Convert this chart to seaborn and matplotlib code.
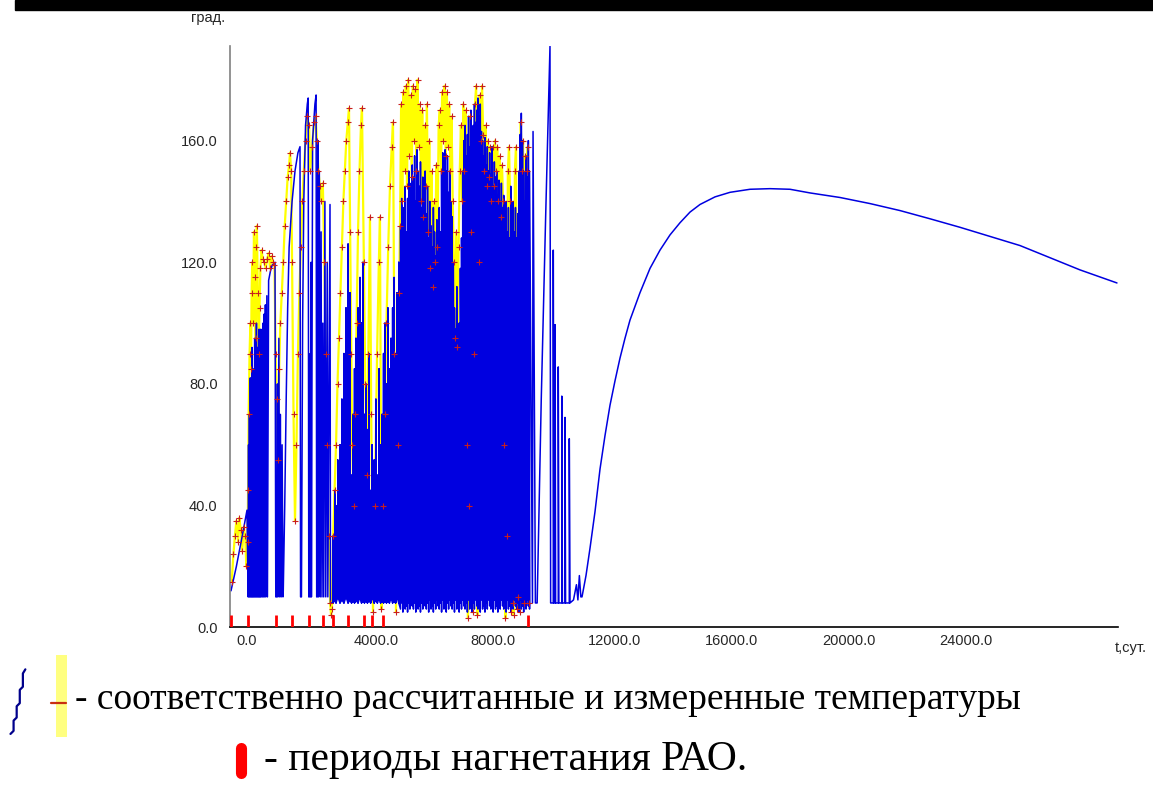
import numpy as np
import matplotlib
matplotlib.use("Agg")
import matplotlib.pyplot as plt
import matplotlib.transforms as mtransforms
from matplotlib import font_manager
from matplotlib.patches import Rectangle
import seaborn as sns

# calculated temperature (blue): start of the record, explicit points
blue_t1 = [17, 200, 400, 563, 600,
           615, 630, 645, 660, 675, 690, 705, 720, 735, 750, 765, 780, 795, 810, 825, 840,
           855, 870, 885, 900, 915, 930, 945, 960, 975, 990, 1005, 1020, 1035, 1050,
           1074, 1090, 1110, 1125, 1150, 1165, 1190, 1205, 1240, 1260, 1300, 1360, 1420, 1518, 1545,
           1580, 1600, 1620, 1650, 1680, 1700, 1730, 1760, 1790,
           1800, 1850, 1900, 1950, 2000, 2100, 2200, 2300, 2371, 2390,
           2420, 2460, 2500, 2560, 2620, 2650, 2670,
           2690, 2720, 2730, 2750, 2760, 2800, 2880, 2920, 2940,
           2960, 2985, 3000, 3030, 3060, 3090, 3120, 3150, 3180, 3220, 3250, 3300, 3320, 3394, 3410]
blue_T1 = [12, 20, 30, 38.5, 10,
           60, 10, 70, 10, 82, 10, 78, 10, 92, 10, 85, 10, 75, 10, 95, 10,
           88, 10, 100, 10, 92, 10, 85, 10, 98, 10, 90, 10, 98, 10,
           97, 10, 100, 10, 103, 10, 106, 10, 109, 10, 114, 117, 119, 120, 10,
           10, 80, 10, 95, 10, 70, 10, 60, 10,
           12, 40, 75, 105, 125, 140, 150, 156, 158, 10,
           10, 100, 140, 165, 172, 174, 10,
           10, 90, 10, 120, 10, 160, 172, 175, 10,
           10, 160, 10, 150, 10, 130, 10, 100, 10, 140, 10, 120, 10, 139, 8]

# sparse spikes between the injections of 3400-5800 days
mid_t = [3500, 3560, 3600, 3660, 3735, 3800, 3870, 3940, 4010, 4076, 4130, 4180, 4230, 4280,
         4350, 4417, 4470, 4520, 4570, 4620, 4670, 4720, 4780, 4830, 4900, 4960, 5010, 5070,
         5120, 5170, 5220, 5270, 5320, 5370, 5420, 5475, 5530, 5580, 5630, 5680, 5740]
mid_peak = [30, 45, 40, 55, 60, 75, 90, 105, 126, 110, 50, 70, 85, 95,
            105, 115, 100, 120, 70, 80, 65, 90, 45, 60, 55, 75, 50, 85,
            60, 70, 90, 100, 80, 105, 85, 95, 105, 115, 90, 110, 120]
mid_low = [8, 9, 8, 10, 8, 9, 8, 10, 8, 9, 8, 10, 8, 9,
           8, 10, 8, 9, 8, 10, 8, 9, 8, 10, 8, 9, 8, 10,
           8, 9, 8, 10, 8, 9, 8, 10, 8, 9, 8, 10, 8]

# dense block of cycles 5800-10200 days
dense_t = [5800, 5840, 5880, 5920, 5960, 6000, 6040, 6080, 6120, 6160, 6200,
           6240, 6280, 6320, 6360, 6400, 6440, 6480, 6520, 6560, 6600, 6640,
           6680, 6720, 6760, 6800, 6840, 6880, 6920, 6960, 7000, 7040, 7080,
           7120, 7160, 7200, 7240, 7280, 7320, 7360, 7400, 7440, 7480, 7520,
           7560, 7600, 7640, 7680, 7720, 7760, 7800, 7840, 7880, 7920, 7960,
           8000, 8040, 8080, 8120, 8160, 8200, 8240, 8280, 8320, 8360, 8400,
           8440, 8480, 8520, 8560, 8600, 8640, 8680, 8720, 8760, 8800, 8840,
           8880, 8920, 8960, 9000, 9040, 9080, 9120, 9160, 9200, 9240, 9280,
           9320, 9360, 9400, 9440, 9480, 9520, 9560, 9600, 9640, 9680, 9720,
           9760, 9800, 9840, 9880, 9920, 9960, 10000, 10040, 10080, 10120, 10160, 10200]
dense_peak = [132, 141, 125, 138, 145, 130, 141, 150, 136, 146, 152,
              148, 155, 140, 157, 150, 145, 153, 138, 148, 142, 150,
              136, 145, 128, 140, 132, 125, 138, 130, 122, 134, 128,
              138, 130, 150, 156, 145, 157, 150, 155, 143, 150, 140,
              135, 120, 105, 98, 112, 92, 100, 118, 128, 150, 160,
              165, 155, 162, 168, 158, 170, 160, 165, 172, 166, 170,
              174, 168, 172, 163, 160, 155, 161, 152, 158, 150, 156,
              149, 158, 145, 153, 148, 150, 142, 147, 140, 146, 138,
              142, 134, 140, 130, 138, 128, 145, 135, 140, 130, 138,
              128, 136, 150, 162, 169, 160, 150, 140, 155, 148, 160, 150]
dense_low = [6, 8, 5, 9, 6, 7, 5, 8, 6, 9, 7,
             6, 8, 5, 9, 6, 7, 5, 8, 6, 9, 7,
             6, 8, 5, 9, 6, 7, 5, 8, 6, 9, 7,
             6, 8, 5, 9, 6, 7, 5, 8, 6, 9, 7,
             6, 8, 5, 9, 6, 7, 5, 8, 6, 9, 7,
             6, 8, 5, 9, 6, 7, 5, 8, 6, 9, 7,
             6, 8, 5, 9, 6, 7, 5, 8, 6, 9, 7,
             6, 8, 5, 9, 6, 7, 5, 8, 6, 9, 7,
             6, 8, 5, 9, 6, 7, 5, 8, 6, 9, 7,
             6, 8, 5, 9, 6, 7, 5, 8, 6, 9, 7, 6]

# after the last injection: last spikes, flat part and recovery curve
blue_t2 = [10300, 10320, 10400, 10460, 10600, 10750, 10898, 10920,
           11010, 11010, 11030, 11070, 11070, 11090, 11180, 11180, 11200, 11300, 11300, 11320,
           11410, 11410, 11430, 11556, 11556, 11580, 11700, 11800, 11850, 11900, 11950,
           11990, 12126, 12263, 12433, 12604, 12774, 12945, 13115, 13286, 13456, 13627,
           13968, 14310, 14651, 14992, 15333, 15674, 16015, 16527, 17039, 17721, 18403,
           19085, 19767, 20790, 21813, 22837, 23860, 24883, 25906, 26930, 27953, 28976, 30238]
blue_T2 = [8, 163, 8, 8, 75, 135, 191, 8,
           8, 124, 8, 8, 99.5, 8, 8, 85.6, 8, 8, 76, 8,
           8, 69, 8, 8, 62, 8, 9, 14, 9, 17, 10,
           10, 17, 26, 38, 52, 63, 73, 81, 88.5, 95, 101,
           110, 118, 124, 129, 133, 136.5, 139, 141.5, 143, 144, 144.2,
           144, 142.8, 141.3, 139.3, 137, 134.3, 131.5, 128.5, 125.5, 121.5, 117.5, 113.2]

# measured temperature (yellow line, red crosses)
meas_t = [40, 100, 150, 200, 260, 300, 350, 400, 450, 500, 540, 580,
          600, 620, 650, 680, 700, 720, 740, 770, 800, 830, 860, 880, 900, 930, 960, 990, 1020,
          1060, 1100, 1150, 1200, 1250, 1300, 1350, 1400, 1450, 1500,
          1540, 1580, 1620, 1660, 1700, 1750, 1800, 1850, 1900, 1950, 2000, 2030, 2070,
          2100, 2150, 2200, 2250, 2300, 2350, 2400, 2450, 2500, 2560, 2620, 2680, 2720, 2780,
          2850, 2900, 2950, 3000, 3050, 3100, 3150, 3200, 3250, 3300, 3350, 3400, 3430, 3460,
          3500, 3550, 3600, 3650, 3700, 3750, 3800, 3850, 3900, 3950, 4000, 4042,
          4080, 4120, 4150, 4200, 4250, 4300, 4350, 4400, 4450, 4485,
          4550, 4600, 4650, 4700, 4758, 4800, 4860, 4920, 5000, 5060, 5099, 5150,
          5200, 5260, 5320, 5380, 5440, 5500, 5543, 5590, 5645, 5700, 5750, 5782,
          5820, 5860, 5900, 5940, 5980, 6020, 6060, 6100, 6140, 6180, 6220,
          6260, 6300, 6340, 6380, 6420, 6460, 6500, 6540, 6580, 6620, 6660,
          6700, 6740, 6780, 6820, 6860, 6900, 6940, 6980, 7020, 7060, 7100,
          7140, 7180, 7220, 7260, 7300, 7340, 7380, 7420, 7460, 7500, 7540,
          7580, 7620, 7660, 7700, 7740, 7780, 7820, 7860, 7900, 7940, 7980,
          8020, 8060, 8100, 8140, 8180, 8220, 8260, 8300, 8340, 8380, 8420,
          8460, 8500, 8540, 8580, 8620, 8660, 8700, 8740, 8780, 8820, 8860,
          8900, 8940, 8980, 9020, 9060, 9100, 9140, 9180, 9220, 9260, 9300,
          9340, 9380, 9420, 9460, 9500, 9540, 9580, 9620, 9660, 9700, 9740,
          9780, 9820, 9860, 9900, 9940, 9980, 10020, 10060, 10100, 10140, 10180]
meas_T = [15, 24, 30, 35, 28, 36, 32, 25, 33, 30, 20, 28,
          45, 70, 90, 100, 85, 110, 120, 100, 130, 115, 95, 125, 132, 110, 90, 105, 118,
          124, 121, 120, 118, 121, 123, 118, 122, 120, 119,
          90, 75, 55, 85, 100, 110, 120, 132, 140, 148, 152, 156, 150,
          120, 70, 35, 60, 90, 110, 125, 140, 150, 160, 168, 165, 150, 158,
          166, 168, 160, 150, 145, 140, 146, 120, 90, 60, 30, 8, 4, 6,
          30, 45, 60, 80, 95, 110, 125, 140, 150, 160, 166, 170.7,
          130, 90, 60, 40, 70, 100, 130, 150, 165, 170.7,
          120, 80, 50, 90, 135, 70, 5, 40, 90, 120, 135, 6,
          40, 70, 100, 125, 145, 158, 166, 90, 5, 60, 110, 132,
          172, 140, 176, 150, 178, 145, 180, 155, 175, 148, 178,
          160, 177, 150, 180, 158, 172, 140, 170, 135, 165, 145,
          172, 130, 160, 118, 150, 112, 140, 120, 152, 125, 165,
          170, 150, 176, 160, 178, 155, 176, 158, 172, 150, 168,
          140, 120, 95, 130, 92, 125, 150, 165, 140, 172, 150,
          170, 60, 3, 40, 168, 130, 5, 90, 172, 178, 4,
          120, 175, 160, 178, 162, 150, 165, 145, 160, 148, 158,
          140, 158, 145, 160, 150, 158, 140, 155, 135, 152, 140,
          60, 3, 30, 150, 158, 140, 5, 8, 4, 150, 158,
          6, 10, 5, 166, 150, 160, 8, 155, 150, 158, 8]

# injection periods (red marks on the time axis)
inj_t = [7, 607, 1542, 2098, 2668, 3166, 3486, 3998, 4544, 4837, 5192, 10138]

x_ticks = [0, 4000, 8000, 12000, 16000, 20000, 24000]
y_ticks = [0, 40, 80, 120, 160]


def cycles(t, low, peak):
    # trough and peak at the same time, then a slope down to the next trough
    return np.repeat(t, 2), np.column_stack([low, peak]).ravel()


def spikes(t, low, peak):
    # isolated spikes: straight up and straight back down
    return np.repeat(t, 3), np.column_stack([low, peak, low]).ravel()


mid_x, mid_y = spikes(mid_t, mid_low, mid_peak)
dense_x, dense_y = cycles(dense_t, dense_low, dense_peak)
calc_t = np.concatenate([blue_t1, mid_x, dense_x, blue_t2])
calc_T = np.concatenate([blue_T1, mid_y, dense_y, blue_T2])

sns.set_theme(style="white")
names = {f.name for f in font_manager.fontManager.ttflist}
tick_font = "Liberation Sans Narrow" if "Liberation Sans Narrow" in names else "Liberation Sans"
plt.rcParams["font.family"] = ["Liberation Sans", "DejaVu Sans"]

fig = plt.figure(figsize=(11.53, 7.90), dpi=100)
ax = fig.add_axes([230 / 1153, 1 - 627.3 / 790, 888 / 1153, (627.3 - 45.7) / 790])

sns.lineplot(x=meas_t, y=meas_T, sort=False, estimator=None, color="#ffff00",
             lw=1.6, ax=ax, zorder=1)
sns.lineplot(x=calc_t, y=calc_T, sort=False, estimator=None, color="#0000e0",
             lw=1.1, ax=ax, zorder=2)
sns.scatterplot(x=meas_t, y=meas_T, marker="+", s=16, color="#c81e1e",
                linewidth=0.8, ax=ax, zorder=3)
ax.vlines(inj_t, 0, 4.2, colors="#ff0000", lw=2, zorder=4)

ax.set_xlim(-17, 30273)
ax.set_ylim(0, 191.2)
ax.set_xticks(x_ticks)
ax.set_xticklabels([f"{v:.1f}" for v in x_ticks], fontfamily=tick_font, fontsize=10.5)
ax.set_yticks(y_ticks)
ax.set_yticklabels([f"{v:.1f}" for v in y_ticks], fontfamily=tick_font, fontsize=10.5)
ax.tick_params(axis="x", direction="in", length=4, width=0.8, color="black", pad=5)
ax.tick_params(axis="y", direction="in", length=4, width=0.8, color="black", pad=9)
offset = mtransforms.ScaledTranslation(4 / 72, 0, fig.dpi_scale_trans)
for lab in ax.get_xticklabels():
    lab.set_ha("left")
    lab.set_transform(lab.get_transform() + offset)

ax.set_xlabel("")
ax.set_ylabel("")
for side in ["top", "right"]:
    ax.spines[side].set_visible(False)
ax.spines["left"].set_color("#808080")
ax.spines["left"].set_linewidth(1.2)
ax.spines["bottom"].set_color("black")
ax.spines["bottom"].set_linewidth(1.2)

fig.text(225 / 1153, 1 - 18 / 790, "град.", ha="right", va="center",
         fontsize=10.5, fontfamily=tick_font)
fig.text(1115 / 1153, 1 - 648 / 790, "t,сут.", ha="left", va="center",
         fontsize=10.5, fontfamily=tick_font)

# black band at the top
fig.patches.append(Rectangle((15 / 1153, 1 - 9.5 / 790), 1, 9.5 / 790,
                             transform=fig.transFigure, color="black", zorder=5))

# legend glyphs
leg = fig.add_axes([8 / 1153, 1 - 737 / 790, 62 / 1153, 82 / 790])
leg.plot([0.4, 0.9, 0.9, 1.4, 1.4, 1.9, 1.9, 2.4, 2.4, 2.8],
         [0.3, 0.6, 1.6, 1.9, 3.0, 3.3, 4.6, 4.9, 6.2, 6.6], color="#00008b", lw=1.6)
leg.axvspan(7.7, 9.5, color="#ffff80", lw=0)
leg.plot([6.9, 9.4], [3.3, 3.3], color="#c83010", lw=1.6)
leg.set_xlim(0, 10)
leg.set_ylim(0, 8)
leg.axis("off")

fig.add_artist(plt.Line2D([241 / 1153, 241 / 1153], [1 - 748 / 790, 1 - 773 / 790],
                          color="#ff0000", lw=8, solid_capstyle="round"))

fig.text(75 / 1153, 1 - 700 / 790, "- соответственно рассчитанные и измеренные температуры",
         ha="left", va="center", fontsize=27, color="black",
         fontfamily=["Liberation Serif", "DejaVu Serif"])
fig.text(264 / 1153, 1 - 760 / 790, "- периоды нагнетания РАО.",
         ha="left", va="center", fontsize=30, color="black",
         fontfamily=["Liberation Serif", "DejaVu Serif"])

fig.savefig("out.png", dpi=100)
